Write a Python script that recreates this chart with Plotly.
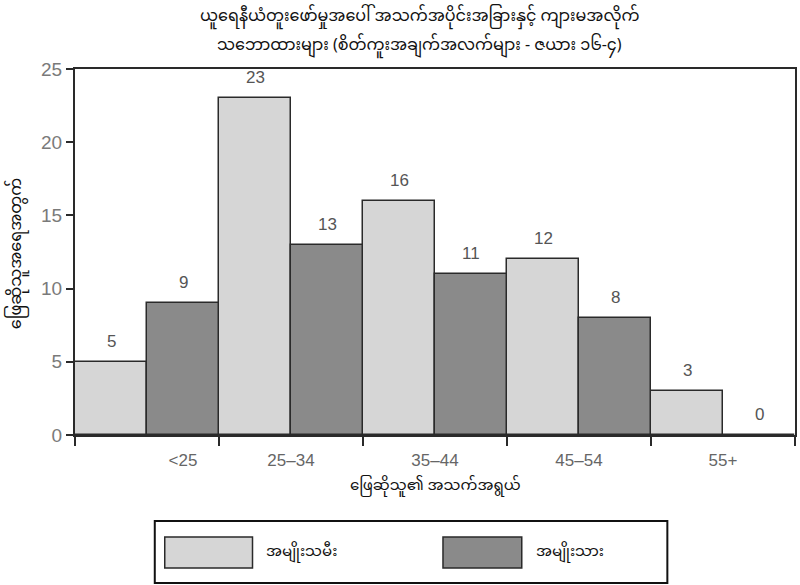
import numpy as np
import plotly.graph_objects as go

# ---- data ----
categories = ["<25", "25–34", "35–44", "45–54", "55+"]
female = [5, 23, 16, 12, 3]
male = [9, 13, 11, 8, 0]
series_names = ["အမျိုးသမီး", "အမျိုးသား"]
title_lines = ["ယူရေနီယံတူးဖော်မှုအပေါ် အသက်အပိုင်းအခြားနှင့် ကျားမအလိုက်",
               "သဘောထားများ (စိတ်ကူးအချက်အလက်များ - ဇယား ၁၆-၄)"]
x_title = "ဖြေဆိုသူ၏ အသက်အရွယ်"
y_title = "ဖြေဆိုသူအရေအတွက်"
y_ticks = [0, 5, 10, 15, 20, 25]

# ---- layout constants (pixels) ----
W, H = 800, 585
L, R, T, B = 75, 797, 69, 435
MY = "Noto Sans Myanmar, Padauk, Myanmar Text, Noto Sans, DejaVu Sans"
NUM = "Liberation Sans Narrow, Arial Narrow, Liberation Sans, Arial"
C_LIGHT = "#d6d6d6"
C_DARK = "#8a8a8a"
EDGE = "#2a2a2a"


def px(x):
    return (x - L) / (R - L)


def py(y):
    return (B - y) / (B - T)


idx = np.arange(len(categories))
xf = 2 * idx
xm = 2 * idx + 1

fig = go.Figure()
fig.add_trace(go.Bar(x=xf, y=female, width=1, name=series_names[0],
                     marker=dict(color=C_LIGHT, line=dict(color=EDGE, width=1.5)),
                     showlegend=False))
fig.add_trace(go.Bar(x=xm, y=male, width=1, name=series_names[1],
                     marker=dict(color=C_DARK, line=dict(color=EDGE, width=1.5)),
                     showlegend=False))

annotations = []
# value labels
for xs, vals in ((xf, female), (xm, male)):
    for x, v in zip(xs, vals):
        annotations.append(dict(x=x, y=v, xref="x", yref="y", text=str(v),
                                showarrow=False, yanchor="bottom", yshift=9,
                                font=dict(family=NUM, size=17, color="#555555")))

# titles
annotations.append(dict(x=px(420), y=py(17), xref="paper", yref="paper",
                        text=title_lines[0], showarrow=False, yanchor="middle",
                        font=dict(family=MY, size=16, color="#111111")))
annotations.append(dict(x=px(420), y=py(46), xref="paper", yref="paper",
                        text=title_lines[1], showarrow=False, yanchor="middle",
                        font=dict(family=MY, size=16, color="#111111")))
annotations.append(dict(x=px(436), y=py(486), xref="paper", yref="paper",
                        text=x_title, showarrow=False, yanchor="middle",
                        font=dict(family=MY, size=15, color="#111111")))
annotations.append(dict(x=px(17), y=py(254), xref="paper", yref="paper",
                        text=y_title, showarrow=False, textangle=-90,
                        xanchor="center", yanchor="middle",
                        font=dict(family=MY, size=16, color="#111111")))

# manual legend
shapes = [dict(type="rect", xref="paper", yref="paper",
               x0=px(155), x1=px(669), y0=py(521), y1=py(583),
               line=dict(color="#111111", width=2), fillcolor="white")]
legend_items = [(165, 253, 265, C_LIGHT, series_names[0]),
                (444, 523, 535, C_DARK, series_names[1])]
for x0, x1, tx, col, name in legend_items:
    shapes.append(dict(type="rect", xref="paper", yref="paper",
                       x0=px(x0), x1=px(x1), y0=py(537), y1=py(568),
                       line=dict(color=EDGE, width=1.5), fillcolor=col))
    annotations.append(dict(x=px(tx), y=py(552), xref="paper", yref="paper",
                            text=name, showarrow=False, xanchor="left",
                            yanchor="middle",
                            font=dict(family=MY, size=15, color="#111111")))

fig.update_layout(
    width=W, height=H,
    margin=dict(l=L, r=W - R, t=T, b=H - B, pad=0),
    plot_bgcolor="white", paper_bgcolor="white",
    bargap=0, bargroupgap=0, barmode="overlay",
    annotations=annotations, shapes=shapes,
    showlegend=False,
)
fig.update_xaxes(
    range=[-0.5, 2 * len(categories) - 0.5],
    tickmode="array", tickvals=[1.0, 2.5, 4.5, 6.5, 8.5], ticktext=categories,
    ticks="", ticklabelstandoff=9,
    tickfont=dict(family=NUM, size=17, color="#666666"),
    minor=dict(tickmode="array",
               tickvals=list(np.arange(-0.5, 2 * len(categories), 2)),
               ticks="outside", ticklen=9, tickwidth=2, tickcolor=EDGE),
    showline=True, linecolor=EDGE, linewidth=2, mirror=True,
    showgrid=False, zeroline=False,
)
fig.update_yaxes(
    range=[0, 25], tickmode="array", tickvals=y_ticks,
    ticks="outside", ticklen=7, tickwidth=2, tickcolor=EDGE,
    tickfont=dict(family=NUM, size=19, color="#7a7a7a"),
    showline=True, linecolor=EDGE, linewidth=2, mirror=True,
    showgrid=False, zeroline=False,
)

fig.write_html("out.html",
               config={"displayModeBar": False},
               post_script="document.body.style.margin='0';"
                           "document.body.style.padding='0';")
